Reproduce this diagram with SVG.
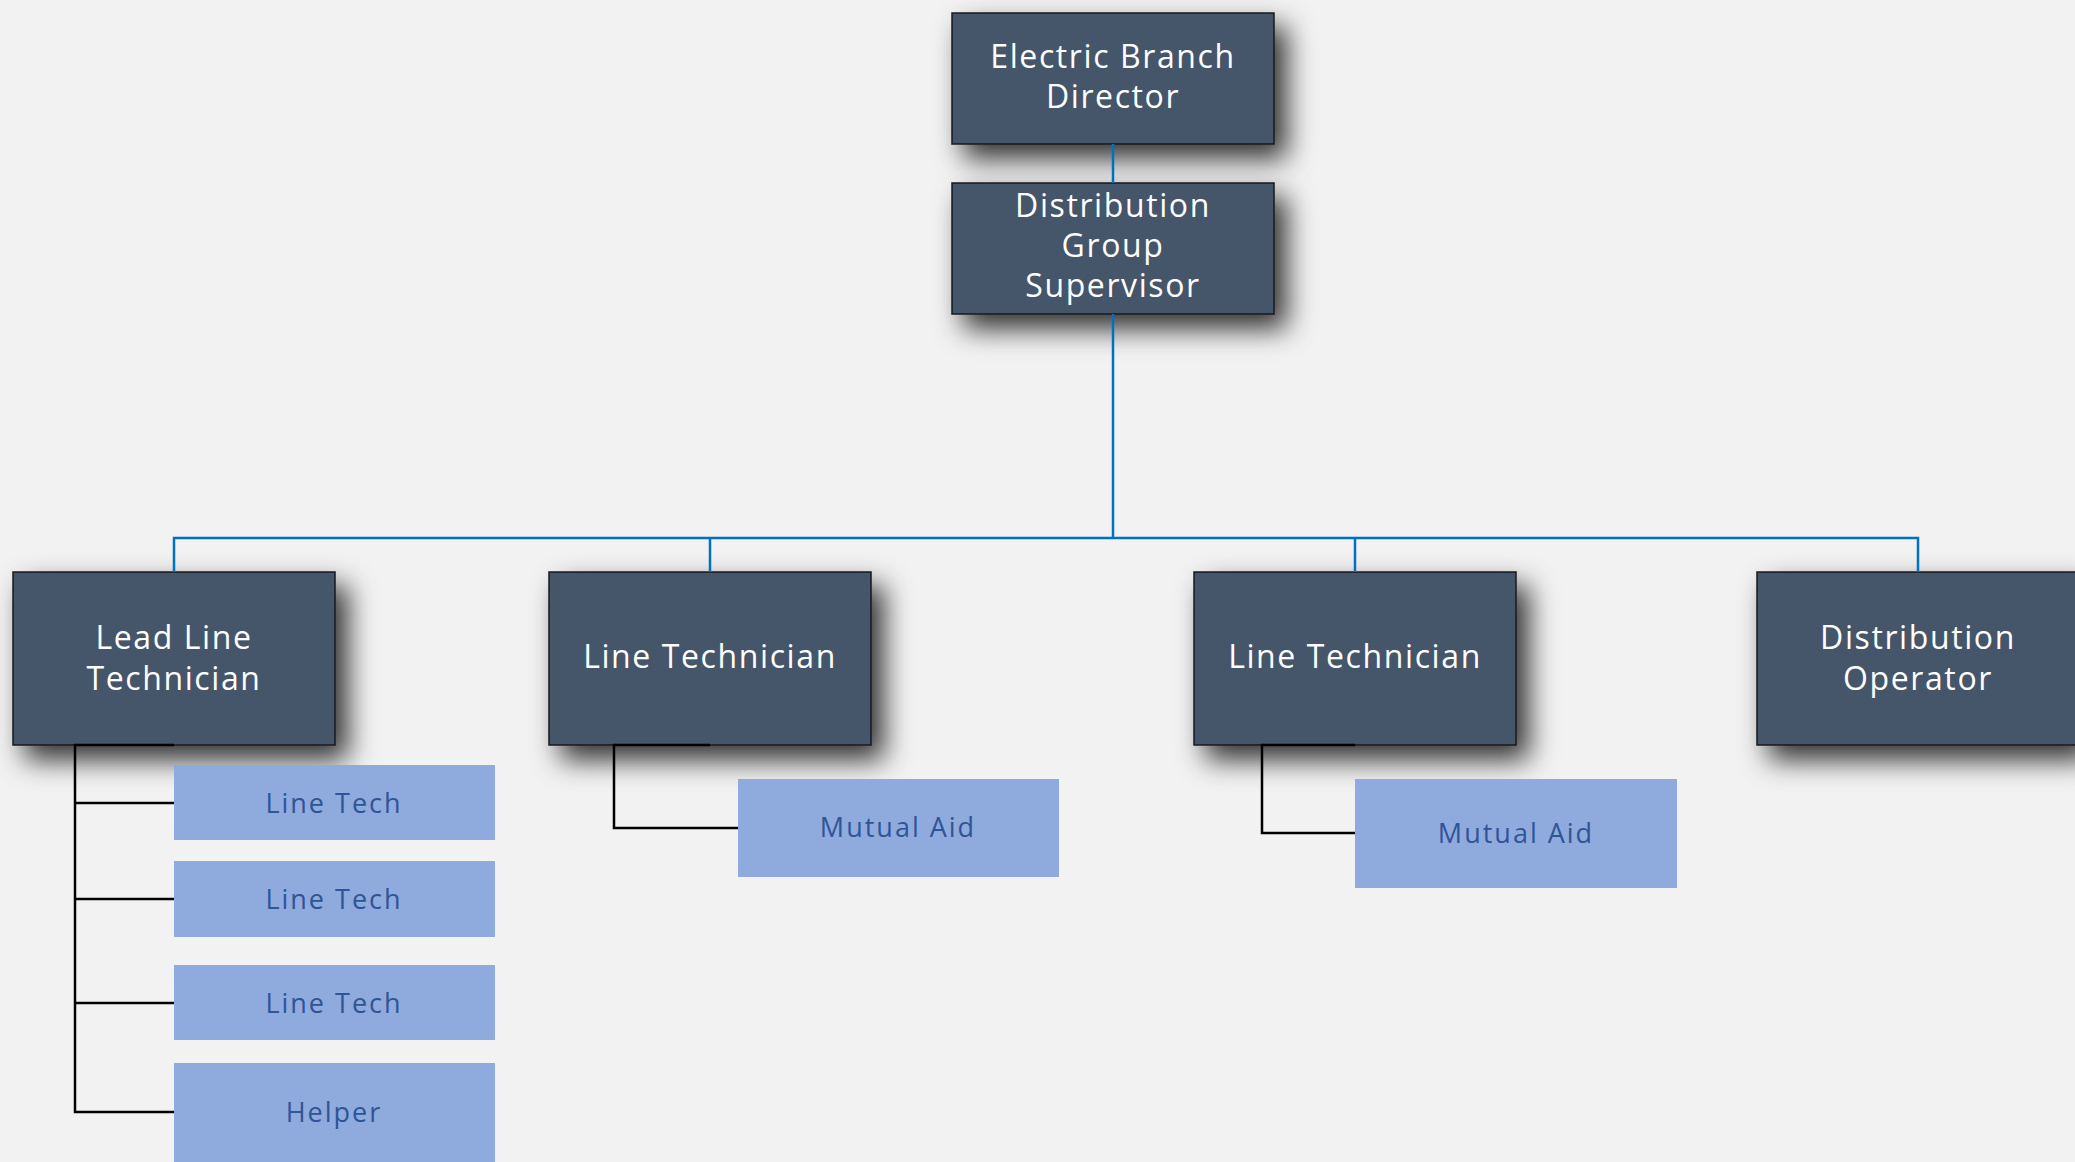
<svg xmlns="http://www.w3.org/2000/svg" width="2075" height="1162" viewBox="0 0 2075 1162">
<defs>
<filter id="shadow" x="-30%" y="-30%" width="170%" height="190%">
<feDropShadow dx="12" dy="14" stdDeviation="14" flood-color="#000" flood-opacity="0.8"/>
</filter>
</defs>
<style>
.dark{fill:#44546A;stroke:#1a1a1a;stroke-width:1.5;filter:url(#shadow)}
.light{fill:#8FAADC}
.dt{font-family:"Open Sans","Liberation Sans",sans-serif;font-size:32px;fill:#ffffff;text-anchor:middle;letter-spacing:1.6px}
.lt{font-family:"Open Sans","Liberation Sans",sans-serif;font-size:27px;fill:#2F5597;text-anchor:middle;letter-spacing:2px}
.blue{fill:none;stroke:#0070C0;stroke-width:2.5}
.black{fill:none;stroke:#000;stroke-width:2.5}
</style>
<rect width="2075" height="1162" fill="#F2F2F2"/>
<g id="electric-branch-director">
<rect class="dark" x="952" y="13" width="322" height="131"/>
<text class="dt" x="1113" y="68">Electric Branch</text>
<text class="dt" x="1113" y="108">Director</text>
</g>
<g id="distribution-group-supervisor">
<rect class="dark" x="952" y="183" width="322" height="131"/>
<text class="dt" x="1113" y="217">Distribution</text>
<text class="dt" x="1113" y="257">Group</text>
<text class="dt" x="1113" y="297">Supervisor</text>
</g>
<g id="lead-line-technician">
<rect class="dark" x="13" y="572" width="322" height="173"/>
<text class="dt" x="174" y="649">Lead Line</text>
<text class="dt" x="174" y="690">Technician</text>
</g>
<g id="line-technician-1">
<rect class="dark" x="549" y="572" width="322" height="173"/>
<text class="dt" x="710" y="668">Line Technician</text>
</g>
<g id="line-technician-2">
<rect class="dark" x="1194" y="572" width="322" height="173"/>
<text class="dt" x="1355" y="668">Line Technician</text>
</g>
<g id="distribution-operator">
<rect class="dark" x="1757" y="572" width="322" height="173"/>
<text class="dt" x="1918" y="649">Distribution</text>
<text class="dt" x="1918" y="690">Operator</text>
</g>
<g id="line-tech-1">
<rect class="light" x="174" y="765" width="321" height="75"/>
<text class="lt" x="334" y="813">Line Tech</text>
</g>
<g id="line-tech-2">
<rect class="light" x="174" y="861" width="321" height="76"/>
<text class="lt" x="334" y="909">Line Tech</text>
</g>
<g id="line-tech-3">
<rect class="light" x="174" y="965" width="321" height="75"/>
<text class="lt" x="334" y="1013">Line Tech</text>
</g>
<g id="helper">
<rect class="light" x="174" y="1063" width="321" height="100"/>
<text class="lt" x="334" y="1122">Helper</text>
</g>
<g id="mutual-aid-1">
<rect class="light" x="738" y="779" width="321" height="98"/>
<text class="lt" x="898" y="837">Mutual Aid</text>
</g>
<g id="mutual-aid-2">
<rect class="light" x="1355" y="779" width="322" height="109"/>
<text class="lt" x="1516" y="843">Mutual Aid</text>
</g>
<g id="connectors">
<path class="blue" d="M1113 144V183"/>
<path class="blue" d="M1113 314V538"/>
<path class="blue" d="M174 572V538H1918V572"/>
<path class="blue" d="M710 538V572"/>
<path class="blue" d="M1355 538V572"/>
<path class="black" d="M174 745H75V1112H174"/>
<path class="black" d="M75 803H174M75 899H174M75 1003H174"/>
<path class="black" d="M710 745H614V828H738"/>
<path class="black" d="M1355 745H1262V833H1355"/>
</g>
</svg>
